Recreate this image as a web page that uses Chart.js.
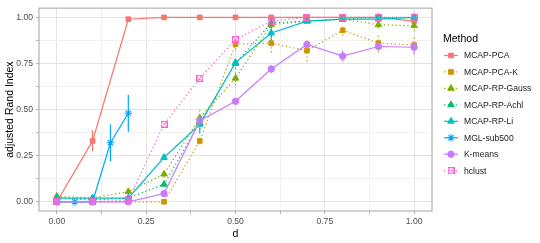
<!DOCTYPE html>
<html>
<head>
<meta charset="utf-8">
<script src="https://cdn.jsdelivr.net/npm/chart.js@4/dist/chart.umd.min.js"></script>
<style>
  html, body { margin: 0; padding: 0; background: #fff; }
  #wrap { width: 540px; height: 243px; }
</style>
</head>
<body>
<div id="wrap"><canvas id="ari" width="540" height="243"></canvas></div>
<script>
// values
const dGrid = [0, 0.1, 0.2, 0.3, 0.4, 0.5, 0.6, 0.7, 0.8, 0.9, 1.0];
const dMGL = [0, 0.05, 0.1, 0.15, 0.2];

const mcapPCA   = [0, 0.33, 0.99, 1.0, 1.0, 1.0, 1.0, 1.0, 1.0, 1.0, 0.98];
const mcapPCAK  = [0, 0, 0, 0, 0.33, 0.855, 0.86, 0.82, 0.93, 0.86, 0.85];
const rpGauss   = [0.03, 0.02, 0.055, 0.15, 0.455, 0.67, 0.96, 0.98, 0.99, 0.96, 0.955];
const rpAchl    = [0.02, 0.01, 0.02, 0.095, 0.43, 0.75, 0.97, 0.98, 0.99, 1.0, 1.0];
const rpLi      = [0.02, 0.02, 0.02, 0.24, 0.42, 0.755, 0.915, 0.98, 0.99, 0.99, 1.0];
const mglSub500 = [0, 0, 0, 0.32, 0.48];
const kMeans    = [0, 0, 0, 0.045, 0.44, 0.545, 0.72, 0.853, 0.79, 0.842, 0.838];
const hclust    = [0, 0, 0.01, 0.42, 0.67, 0.88, 0.98, 1.0, 1.0, 1.0, 1.0];

// half widths of the error bars
const mcapPCAErr  = [0, 0.057, 0, 0, 0, 0, 0, 0, 0, 0, 0.01];
const mcapPCAKErr = [0, 0, 0, 0, 0.02, 0.03, 0.05, 0.06, 0.03, 0.05, 0.05];
const rpGaussErr  = [0, 0, 0, 0.02, 0.05, 0.04, 0.02, 0, 0, 0.02, 0.03];
const rpAchlErr   = [0, 0, 0, 0.01, 0.04, 0.03, 0.01, 0, 0, 0, 0];
const rpLiErr     = [0, 0, 0, 0.01, 0.05, 0.02, 0.04, 0, 0, 0, 0];
const mglErr      = [0, 0, 0, 0.1, 0.1];
const kMeansErr   = [0, 0, 0, 0, 0.03, 0.01, 0.02, 0.02, 0.03, 0.02, 0.03];
const hclustErr   = [0, 0, 0, 0, 0.01, 0.01, 0, 0, 0, 0, 0];

const methods = ['MCAP-PCA', 'MCAP-PCA-K', 'MCAP-RP-Gauss', 'MCAP-RP-Achl', 'MCAP-RP-Li', 'MGL-sub500', 'K-means', 'hclust'];
const xTicks = [0, 0.125, 0.25, 0.375, 0.5, 0.625, 0.75, 0.875, 1.0];
const yTicks = [0, 0.125, 0.25, 0.375, 0.5, 0.625, 0.75, 0.875, 1.0];
const majorTicks = [0, 0.25, 0.5, 0.75, 1.0];

const FONT = "'Liberation Sans', Arial, sans-serif";
const dotted = [1.3, 2.6];

// square with an x in it, for hclust
function boxTimes(color) {
    const c = document.createElement('canvas');
    c.width = 7; c.height = 7;
    const g = c.getContext('2d');
    g.strokeStyle = color;
    g.lineWidth = 1;
    g.strokeRect(0.5, 0.5, 6, 6);
    g.globalAlpha = 0.8;
    g.beginPath();
    g.moveTo(1, 1); g.lineTo(6, 6);
    g.moveTo(6, 1); g.lineTo(1, 6);
    g.stroke();
    return c;
}

function pts(xs, ys) {
    return xs.map(function (x, i) { return { x: x, y: ys[i] }; });
}

function series(i, xs, ys, err, color, style, dash, radius) {
    return {
        label: methods[i],
        data: pts(xs, ys),
        err: err,
        borderColor: color,
        backgroundColor: color,
        borderWidth: 1.2,
        borderDash: dash,
        pointStyle: style,
        pointRadius: radius,
        pointBorderWidth: style === 'star' ? 1.1 : 1,
        pointBorderColor: color,
        pointBackgroundColor: color,
        order: 8 - i,
        tension: 0,
        fill: false
    };
}

const datasets = [
    series(0, dGrid, mcapPCA, mcapPCAErr, '#F8766D', 'rect', [], 3.3),
    series(1, dGrid, mcapPCAK, mcapPCAKErr, '#CD9600', 'rect', dotted, 3.3),
    series(2, dGrid, rpGauss, rpGaussErr, '#7CAE00', 'triangle', dotted, 3.8),
    series(3, dGrid, rpAchl, rpAchlErr, '#00BE67', 'triangle', dotted, 3.8),
    series(4, dGrid, rpLi, rpLiErr, '#00BFC4', 'triangle', [], 3.8),
    series(5, dMGL, mglSub500, mglErr, '#00A9FF', 'star', [], 3.8),
    series(6, dGrid, kMeans, kMeansErr, '#C77CFF', 'circle', [], 3.2),
    series(7, dGrid, hclust, hclustErr, '#FF61CC', boxTimes('#FF61CC'), dotted, 3.5)
];

// vertical error bars, drawn through the scales
const errorBars = {
    id: 'errorBars',
    afterDatasetsDraw(chart) {
        const ctx = chart.ctx;
        const xs = chart.scales.x, ys = chart.scales.y;
        ctx.save();
        chart.data.datasets.forEach(function (ds) {
            ctx.strokeStyle = ds.borderColor;
            ctx.lineWidth = 1.2;
            ctx.setLineDash(ds.borderDash);
            ds.data.forEach(function (p, j) {
                const e = ds.err[j];
                if (!e) return;
                const px = xs.getPixelForValue(p.x);
                ctx.beginPath();
                ctx.moveTo(px, ys.getPixelForValue(p.y - e));
                ctx.lineTo(px, ys.getPixelForValue(p.y + e));
                ctx.stroke();
            });
        });
        ctx.restore();
    }
};

// gray panel border
const panelBorder = {
    id: 'panelBorder',
    afterDraw(chart) {
        const a = chart.chartArea, ctx = chart.ctx;
        ctx.save();
        ctx.strokeStyle = '#b3b3b3';
        ctx.lineWidth = 1.2;
        ctx.strokeRect(a.left, a.top, a.right - a.left, a.bottom - a.top);
        ctx.restore();
    }
};

// ggplot-like legend on the right
const methodLegend = {
    id: 'methodLegend',
    afterDraw(chart) {
        const ctx = chart.ctx;
        ctx.save();
        ctx.fillStyle = '#000';
        ctx.font = '10.5px ' + FONT;
        ctx.textBaseline = 'alphabetic';
        ctx.fillText('Method', 443, 42);
        ctx.font = '8.6px ' + FONT;
        ctx.textBaseline = 'middle';
        chart.data.datasets.forEach(function (ds, i) {
            const y = 55.5 + i * 16.45;
            ctx.strokeStyle = ds.borderColor;
            ctx.lineWidth = 1.2;
            ctx.setLineDash(ds.borderDash);
            ctx.beginPath();
            ctx.moveTo(444, y);
            ctx.lineTo(458, y);
            ctx.stroke();
            ctx.setLineDash([]);
            ctx.fillStyle = ds.borderColor;
            ctx.strokeStyle = ds.borderColor;
            ctx.lineWidth = ds.pointBorderWidth;
            Chart.helpers.drawPoint(ctx, {
                pointStyle: ds.pointStyle,
                radius: ds.pointRadius,
                rotation: 0,
                borderWidth: ds.pointBorderWidth
            }, 451, y);
            ctx.fillStyle = '#1a1a1a';
            ctx.fillText(methods[i], 464, y + 0.5);
        });
        ctx.restore();
    }
};

function gridColor(ctx) {
    if (!ctx.tick) return '#ebebeb';
    return majorTicks.includes(ctx.tick.value) ? '#e3e3e3' : '#f1f1f1';
}

const config = {
    type: 'line',
    data: { datasets: datasets },
    options: {
        responsive: false,
        animation: false,
        layout: { padding: { left: 0, right: 108, top: 5, bottom: 0 } },
        plugins: {
            legend: { display: false },
            tooltip: { enabled: false }
        },
        scales: {
            x: {
                type: 'linear',
                min: -0.05,
                max: 1.05,
                afterBuildTicks: function (s) { s.ticks = xTicks.map(function (v) { return { value: v }; }); },
                afterFit: function (s) { s.height = 32; },
                ticks: {
                    autoSkip: false,
                    maxRotation: 0,
                    padding: 2,
                    color: '#4d4d4d',
                    font: { family: FONT, size: 8.6 },
                    callback: function (v) { return majorTicks.includes(v) ? v.toFixed(2) : ''; }
                },
                grid: { color: gridColor, lineWidth: 1, tickLength: 3, tickColor: '#b3b3b3' },
                border: { display: false },
                title: {
                    display: true,
                    text: 'd',
                    color: '#000',
                    font: { family: FONT, size: 10.5 },
                    padding: { top: 0, bottom: 3 }
                }
            },
            y: {
                min: -0.05,
                max: 1.05,
                afterBuildTicks: function (s) { s.ticks = yTicks.map(function (v) { return { value: v }; }); },
                afterFit: function (s) { s.width = 39; },
                ticks: {
                    autoSkip: false,
                    padding: 3,
                    color: '#4d4d4d',
                    font: { family: FONT, size: 8.6 },
                    callback: function (v) { return majorTicks.includes(v) ? v.toFixed(2) : ''; }
                },
                grid: { color: gridColor, lineWidth: 1, tickLength: 3, tickColor: '#b3b3b3' },
                border: { display: false },
                title: {
                    display: true,
                    text: 'adjusted Rand Index',
                    color: '#000',
                    font: { family: FONT, size: 10.5 },
                    padding: { top: 4, bottom: 0 }
                }
            }
        }
    },
    plugins: [errorBars, panelBorder, methodLegend]
};

const chart = new Chart(document.getElementById('ari').getContext('2d'), config);
</script>
</body>
</html>
